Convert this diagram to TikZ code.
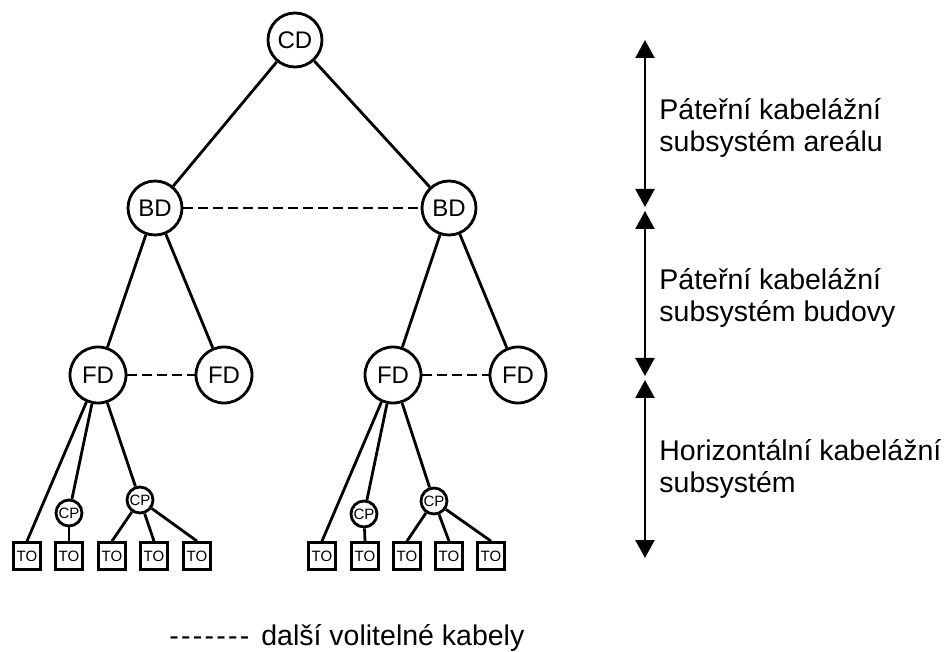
\documentclass[tikz,border=0pt]{standalone}
\usepackage{fontspec}
\newfontfamily\arial{Liberation Sans}
\usetikzlibrary{arrows.meta}
\begin{document}
\begin{tikzpicture}[x=1pt,y=-1pt,line width=2.8pt,
  big/.style={circle,draw,minimum size=54pt,inner sep=0pt,font=\arial\fontsize{24}{24}\selectfont},
  fdn/.style={big,minimum size=56pt},
  cpn/.style={circle,draw,minimum size=26pt,inner sep=0pt,font=\arial\fontsize{15}{15}\selectfont},
  ton/.style={rectangle,draw,minimum size=27pt,inner sep=0pt,font=\arial\fontsize{15}{15}\selectfont},
  link/.style={line width=2.8pt},
  opt/.style={line width=2.8pt,dash pattern=on 10pt off 5pt},
  span/.style={line width=2.4pt,{Triangle[width=19pt,length=18pt]}-{Triangle[width=19pt,length=18pt]}},
  lbl/.style={anchor=base west,inner sep=0pt,font=\arial\fontsize{28.5}{32}\selectfont}]
\useasboundingbox (0,0) rectangle (951,652);

% top levels
\node[big] (cd) at (295,40) {CD};
\node[big] (bdl) at (155,208) {BD};
\node[big] (bdr) at (449,208) {BD};
\node[fdn] (fd1) at (98,375) {FD};
\node[fdn] (fd2) at (224,375) {FD};
\node[fdn] (fd3) at (393,375) {FD};
\node[fdn] (fd4) at (518,375) {FD};

% consolidation points
\node[cpn] (cpa) at (69,513) {CP};
\node[cpn] (cpb) at (140,500) {CP};
\node[cpn] (cpc) at (364,514) {CP};
\node[cpn] (cpd) at (434,501) {CP};

% telecommunication outlets
\node[ton] (to1) at (27,556) {TO};
\node[ton] (to2) at (69,556) {TO};
\node[ton] (to3) at (112,556) {TO};
\node[ton] (to4) at (154,556) {TO};
\node[ton] (to5) at (197,556) {TO};
\node[ton] (to6) at (322,556) {TO};
\node[ton] (to7) at (365,556) {TO};
\node[ton] (to8) at (407,556) {TO};
\node[ton] (to9) at (449,556) {TO};
\node[ton] (to10) at (491,556) {TO};

% connectors
\draw[link] (cd) -- (bdl);
\draw[link] (cd) -- (bdr);
\draw[link] (bdl) -- (fd1);
\draw[link] (bdl) -- (fd2);
\draw[link] (bdr) -- (fd3);
\draw[link] (bdr) -- (fd4);

\draw[link] (fd1) -- (to1.north);
\draw[link] (fd1) -- (cpa);
\draw[link] (fd1) -- (cpb);
\draw[link] (cpa) -- (to2.north);
\draw[link] (cpb) -- (to3.north);
\draw[link] (cpb) -- (to4.north);
\draw[link] (cpb) -- (to5.north);

\draw[link] (fd3) -- (to6.north);
\draw[link] (fd3) -- (cpc);
\draw[link] (fd3) -- (cpd);
\draw[link] (cpc) -- (to7.north);
\draw[link] (cpd) -- (to8.north);
\draw[link] (cpd) -- (to9.north);
\draw[link] (cpd) -- (to10.north);

% optional cables
\draw[opt] (bdl) -- (bdr);
\draw[opt] (fd1) -- (fd2);
\draw[opt] (fd3) -- (fd4);

% subsystem spans
\coordinate (a1) at (645,40);
\coordinate (a2) at (645,207);
\coordinate (a3) at (645,211);
\coordinate (a4) at (645,376);
\coordinate (a5) at (645,380);
\coordinate (a6) at (645,558);
\draw[span] (a1) -- (a2);
\draw[span] (a3) -- (a4);
\draw[span] (a5) -- (a6);

\node[lbl] (t1a) at (658,120) {Páteřní kabelážní};
\node[lbl] (t1b) at (658,152) {subsystém areálu};
\node[lbl] (t2a) at (658,290) {Páteřní kabelážní};
\node[lbl] (t2b) at (658,322) {subsystém budovy};
\node[lbl] (t3a) at (658,460) {Horizontální kabelážní};
\node[lbl] (t3b) at (658,492) {subsystém};

% legend
\node[lbl] (leg) at (168,645) {\makebox[80pt][s]{-\hfill-\hfill-\hfill-\hfill-\hfill-\hfill-}\hspace{12pt}další volitelné kabely};
\end{tikzpicture}
\end{document}
